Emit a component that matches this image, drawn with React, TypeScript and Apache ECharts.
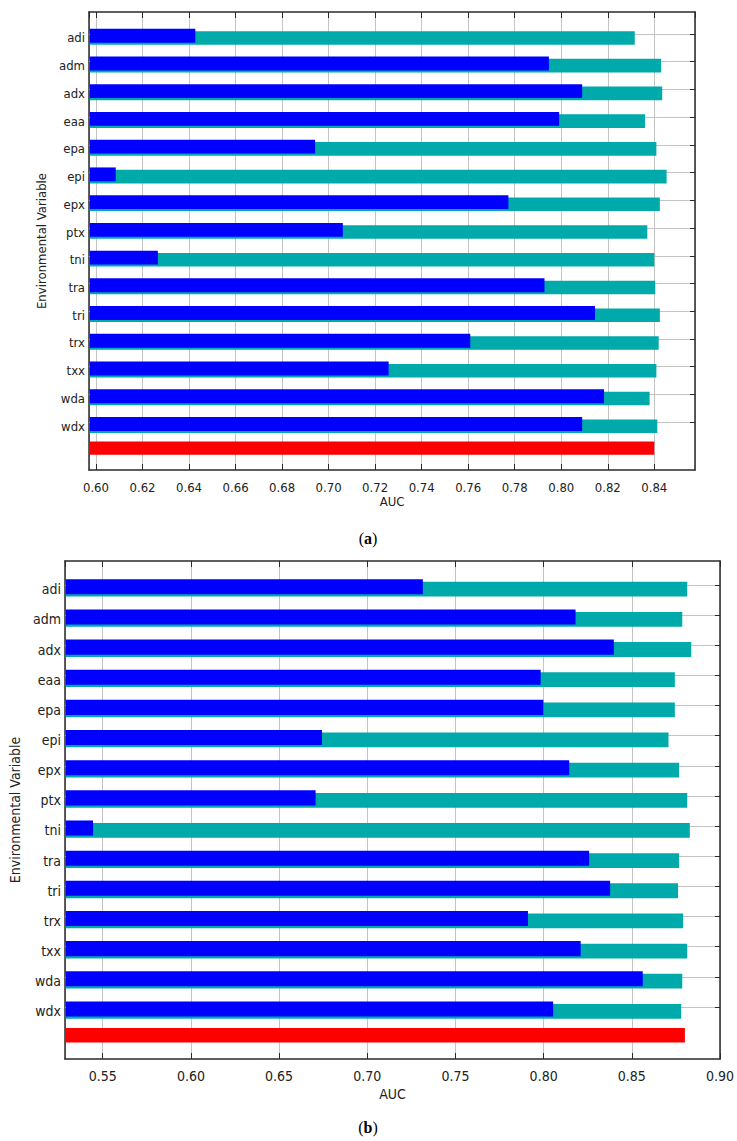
import React, { useEffect, useRef } from 'react';
import * as echarts from 'echarts';

// ---------- data ----------
const variables = ['adi', 'adm', 'adx', 'eaa', 'epa', 'epi', 'epx', 'ptx', 'tni', 'tra', 'tri', 'trx', 'txx', 'wda', 'wdx'];

// (a) jackknife AUC
const aWithOnly = [0.6427, 0.7947, 0.8090, 0.7991, 0.6942, 0.6085, 0.7773, 0.7061, 0.6266, 0.7928, 0.8145, 0.7609, 0.7258, 0.8184, 0.8090];
const aWithout = [0.8316, 0.8429, 0.8434, 0.8360, 0.8409, 0.8453, 0.8424, 0.8370, 0.8400, 0.8404, 0.8424, 0.8419, 0.8409, 0.8380, 0.8413];
const aAll = [0.8400];

// (b) jackknife AUC
const bWithOnly = [0.7315, 0.8181, 0.8398, 0.7983, 0.7998, 0.6743, 0.8145, 0.6707, 0.5445, 0.8258, 0.8377, 0.7911, 0.8210, 0.8562, 0.8054];
const bWithout = [0.8814, 0.8786, 0.8837, 0.8744, 0.8744, 0.8708, 0.8768, 0.8814, 0.8829, 0.8768, 0.8762, 0.8791, 0.8814, 0.8786, 0.8780];
const bAll = [0.8801];

// axis ranges / tick steps
const aRange = [0.597, 0.8575];
const aStep = 0.02;
const bRange = [0.5286, 0.90];
const bStep = 0.05;

// ---------- style / layout ----------
const BLUE = '#0000ff';
const TEAL = '#00aaaa';
const RED = '#ff0000';
const GRIDC = '#c4c4c4';
const FRAME = '#2a2a2a';
const SANS = '"DejaVu Sans Condensed", "Liberation Sans Narrow", sans-serif';
const SERIF = '"Liberation Serif", "Times New Roman", serif';

const Y_MIN = -0.935;
const Y_MAX = 15.58;
const RED_ROW = 14.79;
const GRID_OFF = -0.153;

function barRender(color: string, offset: number, half: number) {
  return (params: any, api: any) => {
    const v = api.value(0);
    const row = api.value(1);
    const cs = params.coordSys;
    const p1 = api.coord([v, row + offset - half]);
    const p2 = api.coord([v, row + offset + half]);
    const x0 = cs.x + 0.75;
    return {
      type: 'rect',
      shape: { x: x0, y: Math.min(p1[1], p2[1]), width: p1[0] - x0, height: Math.abs(p2[1] - p1[1]) },
      style: { fill: color },
    };
  };
}

function gridRender(params: any, api: any) {
  const row = api.value(1);
  const cs = params.coordSys;
  const y = Math.round(api.coord([0, row + GRID_OFF])[1]) + 0.5;
  return {
    type: 'group',
    children: [
      { type: 'line', shape: { x1: cs.x, y1: y, x2: cs.x + cs.width, y2: y }, style: { stroke: GRIDC, lineWidth: 1 } },
      { type: 'line', shape: { x1: cs.x + cs.width - 5, y1: y, x2: cs.x + cs.width, y2: y }, style: { stroke: FRAME, lineWidth: 1 } },
    ],
  };
}

function buildPanel(idx: number, range: number[], step: number, fs: number, labelMargin: number, nameGap: number, yNameGap: number, showMax: boolean, only: number[], without: number[], all: number[]) {
  const xAxes = [
    {
      type: 'value', gridIndex: idx, position: 'bottom', min: range[0], max: range[1],
      minInterval: step, maxInterval: step, splitNumber: 12,
      name: 'AUC', nameLocation: 'middle', nameGap,
      nameTextStyle: { fontFamily: SANS, fontSize: fs, color: '#222' },
      axisLine: { show: true, onZero: false, lineStyle: { color: FRAME, width: 1.5 } },
      axisTick: { show: true, inside: true, length: 6, lineStyle: { color: FRAME } },
      axisLabel: {
        show: true, margin: labelMargin, fontFamily: SANS, fontSize: fs, color: '#222',
        showMinLabel: false, showMaxLabel: showMax,
        formatter: (v: number) => v.toFixed(2),
      },
      splitLine: { show: true, lineStyle: { color: GRIDC, width: 1 } },
    },
    {
      type: 'value', gridIndex: idx, position: 'top', min: range[0], max: range[1],
      minInterval: step, maxInterval: step, splitNumber: 12,
      axisLine: { show: true, onZero: false, lineStyle: { color: FRAME, width: 1.5 } },
      axisTick: { show: true, inside: true, length: 6, lineStyle: { color: FRAME } },
      axisLabel: { show: false },
      splitLine: { show: false },
    },
  ];
  const yAxes = [
    {
      type: 'value', gridIndex: idx, position: 'left', inverse: true, min: Y_MIN, max: Y_MAX,
      minInterval: 1, maxInterval: 1, splitNumber: 16,
      name: 'Environmental Variable', nameLocation: 'middle', nameGap: yNameGap, nameRotate: 90,
      nameTextStyle: { fontFamily: SANS, fontSize: fs, color: '#222' },
      axisLine: { show: true, onZero: false, lineStyle: { color: FRAME, width: 1.5 } },
      axisTick: { show: false },
      axisLabel: {
        show: true, margin: 4, fontFamily: SANS, fontSize: fs, color: '#222',
        formatter: (v: number) => {
          const r = Math.round(v);
          return Math.abs(v - r) < 1e-6 && variables[r] ? variables[r] : '';
        },
      },
      splitLine: { show: false },
    },
    {
      type: 'value', gridIndex: idx, position: 'right', inverse: true, min: Y_MIN, max: Y_MAX,
      axisLine: { show: true, onZero: false, lineStyle: { color: FRAME, width: 1.5 } },
      axisTick: { show: false },
      axisLabel: { show: false },
      splitLine: { show: false },
    },
  ];
  const xi = idx * 2;
  const yi = idx * 2;
  const series = [
    {
      type: 'custom', xAxisIndex: xi, yAxisIndex: yi, z: 1, silent: true,
      renderItem: gridRender,
      data: variables.map((_, k) => [range[0], k]),
    },
    {
      type: 'custom', xAxisIndex: xi, yAxisIndex: yi, z: 2, silent: true,
      renderItem: barRender(TEAL, 0, 0.245),
      data: without.map((v, k) => [v, k]),
    },
    {
      type: 'custom', xAxisIndex: xi, yAxisIndex: yi, z: 3, silent: true,
      renderItem: barRender(BLUE, -0.08, 0.25),
      data: only.map((v, k) => [v, k]),
    },
    {
      type: 'custom', xAxisIndex: xi, yAxisIndex: yi, z: 3, silent: true,
      renderItem: barRender(RED, 0, 0.24),
      data: all.map((v) => [v, RED_ROW]),
    },
  ];
  return { xAxes, yAxes, series };
}

export default function App() {
  const ref = useRef<HTMLDivElement>(null);
  useEffect(() => {
    if (!ref.current) return;
    const chart = echarts.init(ref.current, undefined, { renderer: 'svg' });
    const pa = buildPanel(0, aRange, aStep, 13, 11, 25, 31, false, aWithOnly, aWithout, aAll);
    const pb = buildPanel(1, bRange, bStep, 14, 10, 28, 35, true, bWithOnly, bWithout, bAll);
    chart.setOption({
      animation: false,
      backgroundColor: '#ffffff',
      grid: [
        { left: 89, top: 12, width: 606, height: 458, containLabel: false, outerBoundsMode: 'none' },
        { left: 65, top: 561, width: 655, height: 498, containLabel: false, outerBoundsMode: 'none' },
      ],
      xAxis: [...pa.xAxes, ...pb.xAxes],
      yAxis: [...pa.yAxes, ...pb.yAxes],
      series: [...pa.series, ...pb.series],
      graphic: [
        {
          type: 'text', x: 368, y: 538,
          style: {
            text: '({b|a})', fontFamily: SERIF, fontSize: 16, fill: '#000', align: 'center', verticalAlign: 'middle',
            rich: { b: { fontFamily: SERIF, fontSize: 16, fontWeight: 'bold', fill: '#000' } },
          },
        },
        {
          type: 'text', x: 368, y: 1127,
          style: {
            text: '({b|b})', fontFamily: SERIF, fontSize: 16, fill: '#000', align: 'center', verticalAlign: 'middle',
            rich: { b: { fontFamily: SERIF, fontSize: 16, fontWeight: 'bold', fill: '#000' } },
          },
        },
      ],
    });
    return () => chart.dispose();
  }, []);
  return <div ref={ref} style={{ position: 'absolute', left: 0, top: 0, width: 737, height: 1141 }} />;
}
